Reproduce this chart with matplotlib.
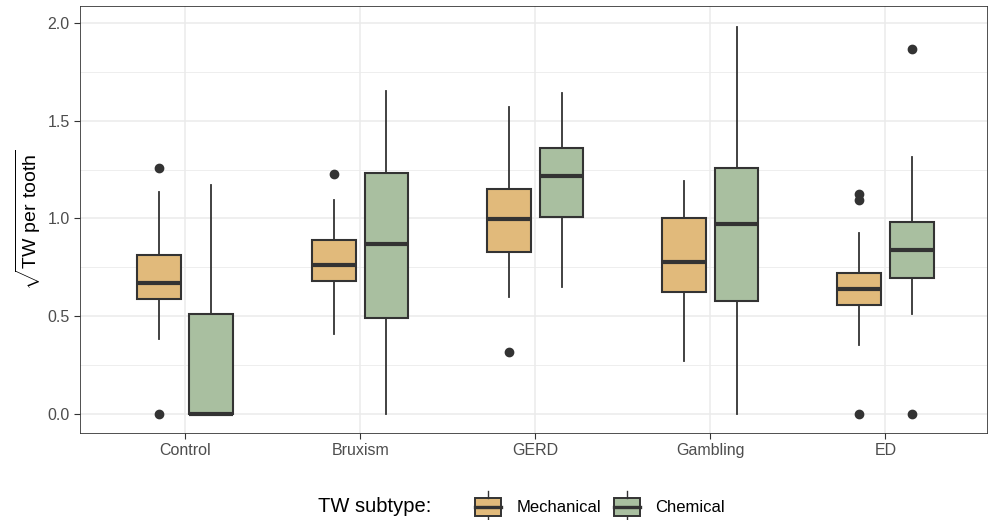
import matplotlib
matplotlib.use("Agg")
import matplotlib.pyplot as plt
from matplotlib.patches import Rectangle
from matplotlib.lines import Line2D
from matplotlib.legend_handler import HandlerBase

plt.rcParams['font.family'] = ['Liberation Sans', 'DejaVu Sans']
plt.rcParams['mathtext.fontset'] = 'custom'
plt.rcParams['mathtext.rm'] = 'Liberation Sans'

# data (sqrt TW per tooth)
groups = ["Control", "Bruxism", "GERD", "Gambling", "ED"]
subtypes = ["Mechanical", "Chemical"]
colors = ["#E1BA7B", "#A9BFA0"]

mech_whislo = [0.38, 0.41, 0.60, 0.27, 0.35]
mech_q1 = [0.585, 0.677, 0.827, 0.622, 0.557]
mech_med = [0.667, 0.762, 0.998, 0.776, 0.639]
mech_q3 = [0.815, 0.892, 1.152, 1.000, 0.718]
mech_whishi = [1.135, 1.094, 1.573, 1.191, 0.927]
mech_out = [[1.26, 0.0], [1.226], [0.315], [], [1.128, 1.097, 0.0]]

chem_whislo = [0.0, 0.0, 0.648, 0.0, 0.508]
chem_q1 = [0.0, 0.491, 1.007, 0.579, 0.697]
chem_med = [0.0, 0.867, 1.217, 0.973, 0.837]
chem_q3 = [0.508, 1.231, 1.362, 1.260, 0.980]
chem_whishi = [1.174, 1.653, 1.645, 1.983, 1.315]
chem_out = [[], [], [], [], [1.867, 0.0]]

series = [
    (mech_whislo, mech_q1, mech_med, mech_q3, mech_whishi, mech_out),
    (chem_whislo, chem_q1, chem_med, chem_q3, chem_whishi, chem_out),
]

fig = plt.figure(figsize=(9.88, 5.2), dpi=100)
ax = fig.add_axes([80 / 988, 87 / 520, 907 / 988, 427 / 520])

edge = "#333333"
offsets = [-0.15, 0.15]
for k, (lo, q1, med, q3, hi, out) in enumerate(series):
    stats = []
    for i in range(len(groups)):
        stats.append(dict(whislo=lo[i], q1=q1[i], med=med[i], q3=q3[i],
                          whishi=hi[i], fliers=out[i]))
    pos = [i + offsets[k] for i in range(len(groups))]
    ax.bxp(stats, positions=pos, widths=0.25, patch_artist=True,
           showcaps=False, manage_ticks=False,
           boxprops=dict(facecolor=colors[k], edgecolor=edge, linewidth=1.5),
           medianprops=dict(color=edge, linewidth=3.0, solid_capstyle='butt'),
           whiskerprops=dict(color=edge, linewidth=1.3),
           flierprops=dict(marker='o', markerfacecolor=edge, markeredgecolor=edge,
                           markersize=6),
           zorder=3)

ax.set_xlim(-0.6, 4.58)
ax.set_ylim(-0.0995, 2.089)
ax.set_xticks(range(len(groups)))
ax.set_xticklabels(groups)
ax.set_yticks([0, 0.5, 1.0, 1.5, 2.0])
ax.set_yticklabels(["0.0", "0.5", "1.0", "1.5", "2.0"])
ax.set_yticks([0.25, 0.75, 1.25, 1.75], minor=True)
ax.grid(True, which='major', color="#EBEBEB", linewidth=1.1, zorder=0)
ax.grid(True, which='minor', axis='y', color="#EBEBEB", linewidth=0.6, zorder=0)
ax.set_axisbelow(True)
ax.tick_params(axis='both', which='major', colors="#333333", labelcolor="#4D4D4D",
               labelsize=11.5, length=4, width=0.8)
ax.tick_params(axis='y', which='minor', length=0)
for s in ax.spines.values():
    s.set_color("#333333")
    s.set_linewidth(0.6)
ax.set_ylabel(r'$\sqrt{\mathrm{TW\ per\ tooth}}$', fontsize=14, labelpad=3)


class BoxHandler(HandlerBase):
    def __init__(self, color):
        super().__init__()
        self.color = color

    def create_artists(self, legend, orig_handle, xdescent, ydescent, width,
                       height, fontsize, trans):
        cx = width / 2 - xdescent
        r = Rectangle((-xdescent, -ydescent + height * 0.1), width, height * 0.8,
                      facecolor=self.color, edgecolor=edge, linewidth=1.4,
                      transform=trans)
        m = Line2D([-xdescent, width - xdescent], [height / 2 - ydescent] * 2,
                   color=edge, linewidth=2.4, transform=trans)
        w1 = Line2D([cx, cx], [height * 0.9 - ydescent, height * 1.25 - ydescent],
                    color=edge, linewidth=1.0, transform=trans)
        w2 = Line2D([cx, cx], [-ydescent - height * 0.25, -ydescent + height * 0.1],
                    color=edge, linewidth=1.0, transform=trans)
        return [r, m, w1, w2]


handles = [Rectangle((0, 0), 1, 1, label=s) for s in subtypes]
leg = fig.legend(handles, subtypes, loc='center', bbox_to_anchor=(600 / 988, 13 / 520),
                 ncol=2, frameon=False, fontsize=12, handlelength=1.55,
                 handleheight=1.6, columnspacing=0.8, handletextpad=0.9,
                 handler_map={handles[0]: BoxHandler(colors[0]),
                              handles[1]: BoxHandler(colors[1])})
fig.text(318 / 988, 13 / 520, "TW subtype:", fontsize=14.5, va='center', ha='left')

fig.savefig("out.png", dpi=100)
